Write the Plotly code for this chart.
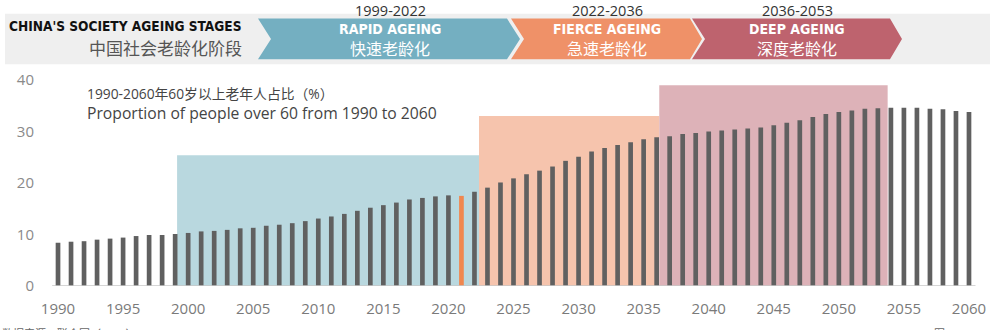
import plotly.graph_objects as go

# ---------------- data ----------------
years = list(range(1990, 2061))
share_60plus = [
    8.4, 8.6, 8.7, 9.0, 9.2, 9.4, 9.7, 9.9, 9.9, 10.1,          # 1990-1999
    10.3, 10.6, 10.7, 10.9, 11.2, 11.3, 11.7, 11.9, 12.2, 12.6,   # 2000-2009
    13.1, 13.5, 14.0, 14.6, 15.2, 15.7, 16.2, 16.8, 17.1, 17.4,   # 2010-2019
    17.6, 17.5, 18.3, 19.1, 20.1, 20.9, 21.7, 22.4, 23.2, 24.3,   # 2020-2029
    25.1, 26.1, 26.8, 27.4, 27.9, 28.5, 28.9, 29.1, 29.5, 29.7,   # 2030-2039
    30.0, 30.2, 30.4, 30.6, 30.8, 31.2, 31.7, 32.2, 32.8, 33.4,   # 2040-2049
    33.8, 34.1, 34.4, 34.5, 34.6, 34.6, 34.6, 34.4, 34.3, 34.0,   # 2050-2059
    33.8,                                                         # 2060
]
highlight_year = 2021

stage_years = ["1999-2022", "2022-2036", "2036-2053"]
stage_en = ["RAPID AGEING", "FIERCE AGEING", "DEEP AGEING"]
stage_cn = ["快速老龄化", "急速老龄化", "深度老龄化"]
stage_start = [1999.15, 2022.35, 2036.2]
stage_end = [2022.35, 2036.2, 2053.75]
stage_top = [25.4, 33.0, 39.0]

x_ticks = list(range(1990, 2061, 5))
y_ticks = [0, 10, 20, 30, 40]

# ---------------- style ----------------
stage_fill = ["#B9D8DF", "#F6C4AD", "#DDB2B8"]
stage_arrow = ["#74AFC1", "#EF9168", "#BE636E"]
bar_color = "#606060"
hl_color = "#F0874F"

L, R, T, B = 45, 18, 80, 42
W = 1000 - L - R
H = 330 - T - B


def px(x):
    return (x - L) / W


def py(y):
    return (330 - B - y) / H


bar_colors = [hl_color if y == highlight_year else bar_color for y in years]

fig = go.Figure()
fig.add_trace(go.Bar(x=years, y=share_60plus, marker=dict(color=bar_colors, line=dict(width=0)),
                     width=0.36, hoverinfo="x+y"))

shapes = []
# stage shading behind bars
for s0, s1, top, col in zip(stage_start, stage_end, stage_top, stage_fill):
    shapes.append(dict(type="rect", xref="x", yref="y", x0=s0, x1=s1, y0=0, y1=top,
                       fillcolor=col, line=dict(width=0), layer="below"))
# baseline
shapes.append(dict(type="line", xref="x", yref="y", x0=1989.55, x1=2060.5, y0=0, y1=0,
                   line=dict(color="#C8C8C8", width=1.5), layer="above"))

# header band
shapes.append(dict(type="rect", xref="paper", yref="paper", x0=px(5), x1=px(990), y0=py(64), y1=py(13),
                   fillcolor="#EFEFEF", line=dict(width=0), layer="below"))

chev = [(258, 507, 13), (511, 690, 12), (692, 890, 12)]
top_y, bot_y, mid_y = 18, 59, 38.5
for (x0, x1, tip), col in zip(chev, stage_arrow):
    pts = [(x0, top_y), (x1, top_y), (x1 + tip, mid_y), (x1, bot_y), (x0, bot_y), (x0 + 13, mid_y)]
    path = "M " + " L ".join(f"{px(a):.5f},{py(b):.5f}" for a, b in pts) + " Z"
    shapes.append(dict(type="path", xref="paper", yref="paper", path=path,
                       fillcolor=col, line=dict(width=0), layer="below"))

cond = "Liberation Sans Narrow, DejaVu Sans Condensed, Arial Narrow, sans-serif"
light = "Open Sans, Noto Sans CJK SC, Lato, sans-serif"
cjk = "Noto Sans CJK SC, sans-serif"

ann = []
ann.append(dict(text="<b>CHINA'S SOCIETY AGEING STAGES</b>", x=px(244), y=py(25), xanchor="right",
                yanchor="middle", font=dict(family=cond, size=13.6, color="#111")))
ann.append(dict(text="中国社会老龄化阶段", x=px(244), y=py(47.5), xanchor="right", yanchor="middle",
                font=dict(family=cjk, size=17, color="#555")))

centers = [390, 607, 797]
for cx, yr, en, cn in zip(centers, stage_years, stage_en, stage_cn):
    ann.append(dict(text=yr, x=px(cx), y=py(10), xanchor="center", yanchor="middle",
                    font=dict(family=light, size=14.5, color="#333")))
    ann.append(dict(text=f"<b>{en}</b>", x=px(cx), y=py(28), xanchor="center", yanchor="middle",
                    font=dict(family=cond, size=14, color="white")))
    ann.append(dict(text=cn, x=px(cx), y=py(48), xanchor="center", yanchor="middle",
                    font=dict(family=cjk, size=16, color="white")))

legend_text = ("<span style='font-size:13.8px'>1990-2060年60岁以上老年人占比（%）</span>"
               "<br>Proportion of people over 60 from 1990 to 2060")
ann.append(dict(text=legend_text, x=px(85), y=py(104), xanchor="left", yanchor="middle", align="left",
                font=dict(family=light, size=15.7, color="#444")))

ann.append(dict(text="数据来源：联合国（2019）", x=px(0), y=py(325), xanchor="left", yanchor="top",
                font=dict(family=cjk, size=11, color="#666")))
ann.append(dict(text="图：2019 CGTN", x=px(932), y=py(325), xanchor="left", yanchor="top",
                font=dict(family=cjk, size=11, color="#666")))

for a in ann:
    a.update(xref="paper", yref="paper", showarrow=False)

fig.update_layout(
    width=1000, height=330,
    margin=dict(l=L, r=R, t=T, b=B, pad=0),
    paper_bgcolor="white", plot_bgcolor="white",
    showlegend=False,
    shapes=shapes, annotations=ann,
    xaxis=dict(range=[1989, 2061], tickmode="array", tickvals=x_ticks,
               ticktext=[str(v) for v in x_ticks], showgrid=False, zeroline=False,
               showline=False, ticks="", ticklabelstandoff=12,
               tickfont=dict(family=light, size=15, color="#7A7A7A")),
    yaxis=dict(range=[0, 40], tickmode="array", tickvals=y_ticks,
               ticktext=[str(v) for v in y_ticks], showgrid=False, zeroline=False,
               showline=False, ticks="", ticklabelstandoff=10,
               tickfont=dict(family=light, size=15, color="#8A8A8A")),
)

fig.write_html("out.html")
